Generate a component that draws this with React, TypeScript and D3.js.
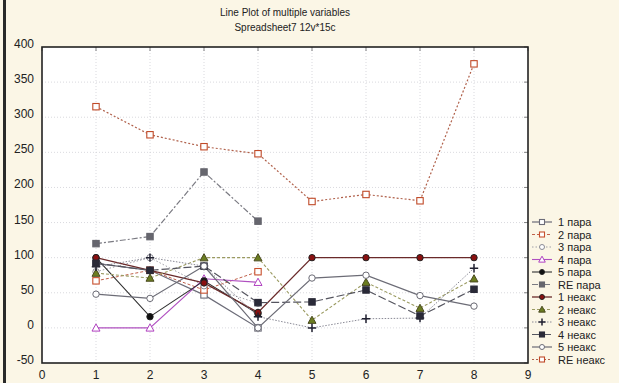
import { useEffect, useRef } from "react";
import * as d3 from "d3";

const title = "Line Plot of multiple variables";
const subtitle = "Spreadsheet7 12v*15c";

const xTicks = [0, 1, 2, 3, 4, 5, 6, 7, 8, 9];
const yTicks = [-50, 0, 50, 100, 150, 200, 250, 300, 350, 400];

const xPara = [1, 2, 3, 4];
const xNeaks = [1, 2, 3, 4, 5, 6, 7, 8];

const para1 = [92, 82, 47, 0];
const para2 = [67, 82, 54, 80];
const para3 = [80, 100, 60, 35];
const para4 = [0, 0, 70, 65];
const para5 = [100, 16, 67, 20];
const paraRE = [120, 130, 222, 152];

const neaks1 = [100, 82, 64, 22, 100, 100, 100, 100];
const neaks2 = [78, 71, 100, 100, 11, 65, 28, 70];
const neaks3 = [87, 100, 88, 16, 0, 13, 14, 85];
const neaks4 = [92, 82, 88, 36, 37, 54, 17, 55];
const neaks5 = [48, 42, 88, 0, 71, 75, 46, 31];
const neaksRE = [315, 275, 258, 248, 180, 190, 181, 376];

type Marker = "openSquare" | "openCircle" | "openTriangle" | "dot" | "square" | "triangle" | "plus";

type Series = {
  name: string;
  xs: number[];
  values: number[];
  stroke: string;
  dash: string;
  marker: Marker;
  markColor: string;
  width: number;
};

const series: Series[] = [
  { name: "1 пара", xs: xPara, values: para1, stroke: "#6c6c78", dash: "", marker: "openSquare", markColor: "#6c6c78", width: 1.2 },
  { name: "2 пара", xs: xPara, values: para2, stroke: "#c0604a", dash: "3,2", marker: "openSquare", markColor: "#c8502e", width: 1 },
  { name: "3 пара", xs: xPara, values: para3, stroke: "#a0a0a8", dash: "1.5,2", marker: "openCircle", markColor: "#8a8a94", width: 1 },
  { name: "4 пара", xs: xPara, values: para4, stroke: "#b050c0", dash: "", marker: "openTriangle", markColor: "#b040c0", width: 1.1 },
  { name: "5 пара", xs: xPara, values: para5, stroke: "#303030", dash: "", marker: "dot", markColor: "#101010", width: 1.1 },
  { name: "RE пара", xs: xPara, values: paraRE, stroke: "#7a7a82", dash: "6,2,2,2", marker: "square", markColor: "#66666e", width: 1.2 },
  { name: "1 неакс", xs: xNeaks, values: neaks1, stroke: "#6a2a2a", dash: "", marker: "dot", markColor: "#8a1010", width: 1.3 },
  { name: "2 неакс", xs: xNeaks, values: neaks2, stroke: "#9a9a60", dash: "3,2", marker: "triangle", markColor: "#6b7d20", width: 1.1 },
  { name: "3 неакс", xs: xNeaks, values: neaks3, stroke: "#8a8a96", dash: "1.5,1.5", marker: "plus", markColor: "#202030", width: 1 },
  { name: "4 неакс", xs: xNeaks, values: neaks4, stroke: "#55555f", dash: "8,3", marker: "square", markColor: "#2a2a38", width: 1.2 },
  { name: "5 неакс", xs: xNeaks, values: neaks5, stroke: "#6c6c76", dash: "", marker: "openCircle", markColor: "#6c6c76", width: 1.2 },
  { name: "RE неакс", xs: xNeaks, values: neaksRE, stroke: "#b0604a", dash: "2,2", marker: "openSquare", markColor: "#c04a28", width: 1.2 },
];

function drawMarker(
  g: d3.Selection<SVGGElement, unknown, null, undefined>,
  kind: Marker,
  cx: number,
  cy: number,
  color: string,
  s = 3.2,
) {
  if (kind === "openSquare" || kind === "square") {
    g.append("rect")
      .attr("x", cx - s)
      .attr("y", cy - s)
      .attr("width", s * 2)
      .attr("height", s * 2)
      .attr("fill", kind === "square" ? color : "#fff")
      .attr("stroke", color)
      .attr("stroke-width", 1.1);
  } else if (kind === "openCircle" || kind === "dot") {
    g.append("circle")
      .attr("cx", cx)
      .attr("cy", cy)
      .attr("r", s)
      .attr("fill", kind === "dot" ? color : "#fff")
      .attr("stroke", kind === "dot" ? "#222" : color)
      .attr("stroke-width", 1);
  } else if (kind === "openTriangle" || kind === "triangle") {
    const t = s + 0.8;
    g.append("path")
      .attr("d", `M${cx},${cy - t}L${cx + t},${cy + t * 0.8}L${cx - t},${cy + t * 0.8}Z`)
      .attr("fill", kind === "triangle" ? color : "#fff")
      .attr("stroke", kind === "triangle" ? "#4a4a20" : color)
      .attr("stroke-width", 1);
  } else {
    g.append("path")
      .attr("d", `M${cx - s - 1},${cy}H${cx + s + 1}M${cx},${cy - s - 1}V${cy + s + 1}`)
      .attr("stroke", color)
      .attr("stroke-width", 1.5);
  }
}

export default function App() {
  const ref = useRef<SVGSVGElement | null>(null);

  useEffect(() => {
    const svg = d3.select(ref.current);
    svg.selectAll("*").remove();

    const W = 619;
    const H = 383;
    const left = 42;
    const right = 528;
    const top = 47;
    const bottom = 363;

    svg.append("rect").attr("width", W).attr("height", H).attr("fill", "#fbf6e6");
    svg.append("rect").attr("x", 3).attr("y", 0).attr("width", 3).attr("height", H).attr("fill", "#2a2a2a");

    const x = d3.scaleLinear().domain([0, 9]).range([left, right]);
    const y = d3.scaleLinear().domain([-50, 400]).range([bottom, top]);

    svg.append("rect")
      .attr("x", left)
      .attr("y", top)
      .attr("width", right - left)
      .attr("height", bottom - top)
      .attr("fill", "#fff");

    // grid
    const grid = svg.append("g").attr("stroke", "#cfcfd6").attr("stroke-width", 0.8).attr("stroke-dasharray", "1,2");
    xTicks.slice(1, -1).forEach((t) => {
      grid.append("line").attr("x1", x(t)).attr("x2", x(t)).attr("y1", top).attr("y2", bottom);
    });
    yTicks.slice(1, -1).forEach((t) => {
      grid.append("line").attr("x1", left).attr("x2", right).attr("y1", y(t)).attr("y2", y(t));
    });

    // inner ticks on top and right
    const ticks = svg.append("g").attr("stroke", "#666").attr("stroke-width", 0.8);
    xTicks.forEach((t) => {
      ticks.append("line").attr("x1", x(t)).attr("x2", x(t)).attr("y1", top).attr("y2", top + 4);
    });
    yTicks.forEach((t) => {
      ticks.append("line").attr("x1", right - 4).attr("x2", right).attr("y1", y(t)).attr("y2", y(t));
    });

    // series
    const line = d3
      .line<[number, number]>()
      .x((d) => x(d[0]))
      .y((d) => y(d[1]));

    series.forEach((s) => {
      const pts = s.xs.map((xv, i) => [xv, s.values[i]] as [number, number]);
      svg.append("path")
        .datum(pts)
        .attr("d", line)
        .attr("fill", "none")
        .attr("stroke", s.stroke)
        .attr("stroke-width", s.width)
        .attr("stroke-dasharray", s.dash || null);
    });
    series.forEach((s) => {
      const g = svg.append("g");
      s.xs.forEach((xv, i) => drawMarker(g, s.marker, x(xv), y(s.values[i]), s.markColor));
    });

    svg.append("rect")
      .attr("x", left)
      .attr("y", top)
      .attr("width", right - left)
      .attr("height", bottom - top)
      .attr("fill", "none")
      .attr("stroke", "#222")
      .attr("stroke-width", 1.6);

    const font = "Liberation Sans, Arial, sans-serif";

    svg.append("g")
      .selectAll("text")
      .data(xTicks)
      .join("text")
      .attr("x", (d) => x(d))
      .attr("y", bottom + 16)
      .attr("text-anchor", "middle")
      .attr("font-family", font)
      .attr("font-size", 12)
      .attr("fill", "#222")
      .text((d) => d);

    svg.append("g")
      .selectAll("text")
      .data(yTicks)
      .join("text")
      .attr("x", left - 8)
      .attr("y", (d) => y(d) + 1)
      .attr("text-anchor", "end")
      .attr("font-family", font)
      .attr("font-size", 12)
      .attr("fill", "#222")
      .text((d) => d);

    svg.append("text")
      .attr("x", (left + right) / 2)
      .attr("y", 16)
      .attr("text-anchor", "middle")
      .attr("font-family", font)
      .attr("font-size", 10)
      .attr("fill", "#222")
      .text(title);
    svg.append("text")
      .attr("x", (left + right) / 2)
      .attr("y", 31)
      .attr("text-anchor", "middle")
      .attr("font-family", font)
      .attr("font-size", 10)
      .attr("fill", "#222")
      .text(subtitle);

    // legend
    const lg = svg.append("g");
    series.forEach((s, i) => {
      const ly = 222 + i * 12.5;
      lg.append("line")
        .attr("x1", 532)
        .attr("x2", 552)
        .attr("y1", ly)
        .attr("y2", ly)
        .attr("stroke", s.stroke)
        .attr("stroke-width", s.width)
        .attr("stroke-dasharray", s.dash || null);
      const mg = lg.append("g");
      drawMarker(mg, s.marker, 542, ly, s.markColor, 2.5);
      lg.append("text")
        .attr("x", 558)
        .attr("y", ly + 4)
        .attr("font-family", font)
        .attr("font-size", 11)
        .attr("fill", "#222")
        .text(s.name);
    });
  }, []);

  return (
    <div style={{ position: "absolute", left: 0, top: 0 }}>
      <svg ref={ref} width={619} height={383} style={{ display: "block" }} />
    </div>
  );
}
